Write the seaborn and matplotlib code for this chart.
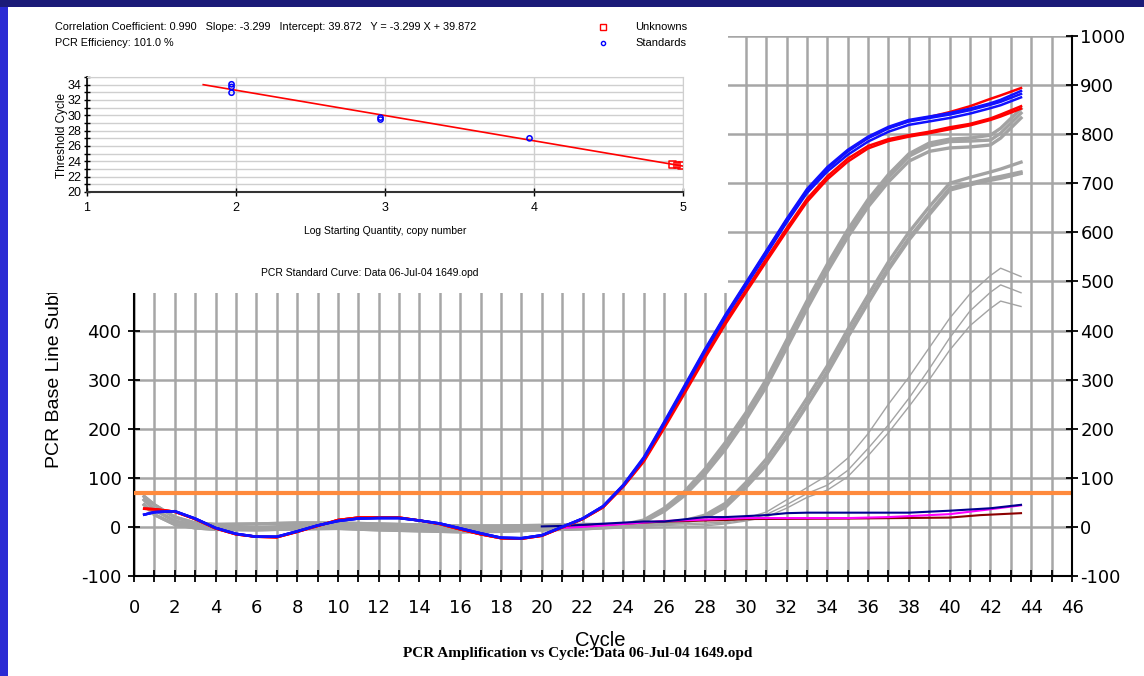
import matplotlib
matplotlib.use("Agg")
import matplotlib.pyplot as plt
from matplotlib.patches import Rectangle
from matplotlib.lines import Line2D
from matplotlib.ticker import MultipleLocator
import seaborn as sns

plt.rcParams["axes.unicode_minus"] = False

W, H = 1144, 676

# --- standard curve (inset) ---
std_logq = [1.97, 1.97, 1.97, 2.97, 2.97, 3.97]
std_ct = [34.05, 33.7, 32.95, 29.7, 29.45, 27.0]
unk_logq = [4.93, 4.96, 4.99]
unk_ct = [23.6, 23.5, 23.45]
fit_logq = [1.78, 5.0]
fit_ct = [34.0, 23.38]

# --- amplification curves ---
wave_cyc = [0.5, 1, 2, 3, 4, 5, 6, 7, 8, 9, 10, 11, 12, 13, 14, 15, 16, 17, 18, 19, 20, 21, 22, 23]
blue_wave = [25, 30, 32, 17, -2, -14, -20, -20, -9, 3, 12, 17, 18, 18, 13, 7, -3, -13, -22, -23, -17, 0, 17, 42]
red_wave = [37, 36, 31, 16, -3, -15, -20, -21, -10, 2, 14, 19, 19, 19, 13, 6, -5, -15, -23, -24, -18, -1, 16, 40]

late_cyc = [24, 25, 26, 27, 28, 29, 30, 31, 32, 33, 34, 35, 36, 37, 38, 39, 40, 41, 42, 42.5, 43.5]
blue1 = [86, 142, 214, 288, 362, 432, 497, 562, 627, 688, 733, 768, 795, 815, 829, 836, 843, 852, 863, 870, 888]
blue2 = [85, 140, 212, 285, 360, 430, 495, 560, 625, 685, 730, 765, 792, 812, 826, 833, 840, 849, 860, 866, 882]
blue3 = [84, 139, 210, 283, 357, 427, 491, 555, 620, 680, 724, 758, 785, 805, 819, 826, 833, 842, 853, 859, 875]
red1 = [84, 138, 208, 282, 356, 426, 492, 558, 622, 684, 730, 766, 793, 813, 827, 835, 845, 857, 872, 879, 894]
red2 = [83, 135, 204, 276, 348, 418, 482, 546, 608, 668, 714, 750, 776, 790, 798, 805, 814, 821, 832, 840, 857]
red3 = [82, 133, 201, 272, 344, 413, 477, 540, 602, 662, 708, 744, 771, 786, 795, 802, 810, 818, 829, 836, 852]

gray_cyc = [0.5, 1, 2, 3, 4, 6, 8, 10, 12, 14, 16, 18, 20, 22]
gray_base_hi = [62, 45, 20, 8, 5, 6, 8, 8, 6, 4, 2, 2, 3, 5]
gray_base_mid = [55, 35, 12, 3, 0, -2, 2, 3, 0, -3, -5, -4, -2, 0]
gray_base_lo = [45, 25, 5, -2, -5, -6, -4, -3, -6, -8, -10, -9, -6, -4]

gray_a1 = [5, 14, 38, 72, 118, 172, 232, 300, 380, 460, 535, 605, 667, 718, 760, 782, 790, 792, 798, 812, 852]
gray_a2 = [3, 12, 35, 68, 112, 165, 225, 292, 372, 452, 528, 598, 660, 712, 755, 776, 785, 786, 788, 802, 843]
gray_a3 = [1, 10, 32, 64, 107, 158, 218, 285, 364, 444, 520, 590, 652, 703, 745, 765, 772, 774, 778, 792, 833]
gray_b1 = [4, 6, 9, 13, 24, 48, 90, 138, 198, 262, 328, 402, 472, 540, 600, 652, 700, 712, 723, 729, 743]
gray_b2 = [2, 4, 7, 11, 20, 42, 82, 128, 186, 250, 316, 390, 460, 528, 588, 640, 690, 700, 710, 714, 723]
gray_b3 = [0, 3, 6, 10, 18, 40, 80, 125, 183, 247, 313, 386, 456, 524, 584, 636, 686, 697, 706, 710, 720]
gray_c1 = [6, 5, 6, 7, 8, 10, 18, 30, 55, 80, 105, 140, 190, 250, 305, 365, 425, 475, 512, 527, 510]
gray_c2 = [3, 2, 3, 4, 5, 8, 14, 25, 45, 68, 85, 115, 160, 208, 262, 322, 385, 440, 478, 493, 477]
gray_c3 = [0, -2, -1, 0, 2, 6, 12, 20, 38, 60, 75, 102, 145, 192, 245, 300, 360, 410, 445, 460, 449]

ntc_navy_cyc = [20, 21, 25, 26, 28, 29, 31, 32, 33, 38, 40, 42, 43.5]
ntc_navy = [1, 2, 11, 11, 20, 20, 24, 28, 29, 29, 33, 38, 45]
ntc_mag_cyc = [21, 22, 26, 30, 32, 35, 37, 40, 42, 43.5]
ntc_mag = [-2, 0, 12, 18, 18, 18, 20, 26, 36, 44]
ntc_dred_cyc = [22, 26, 29, 30, 35, 40, 41.5, 43.5]
ntc_dred = [2, 11, 14, 16, 17, 19, 24, 28]

threshold = 70
rfu_ticks = [-100, 0, 100, 200, 300, 400, 500, 600, 700, 800, 900, 1000]
# the left scale only shows what is not hidden by the standard-curve panel
left_labels = ["-100", "0", "100", "200", "300", "400", "", "", "", "", "", ""]


def fx(x):
    return x / W


def fy(y):
    return 1 - y / H


def curve(ax, x, y, color, lw, z):
    sns.lineplot(x=x, y=y, color=color, linewidth=lw, ax=ax,
                 estimator=None, sort=False, zorder=z)


fig = plt.figure(figsize=(W / 100, H / 100), dpi=100)

# main amplification plot
ax = fig.add_axes([fx(134), fy(576), (1072 - 134) / W, (576 - 36) / H])

for base, tails in [(gray_base_hi, [gray_a1, gray_b1, gray_c1]),
                    (gray_base_mid, [gray_a2, gray_b2, gray_c2]),
                    (gray_base_lo, [gray_a3, gray_b3, gray_c3])]:
    for i, t in enumerate(tails):
        curve(ax, gray_cyc + late_cyc, base + t, "#a3a3a3", 1.0 if i == 2 else 2.4, 2)

curve(ax, ntc_dred_cyc, ntc_dred, "#8b0000", 1.5, 3)
curve(ax, ntc_mag_cyc, ntc_mag, "#ff00ff", 1.5, 3)
curve(ax, ntc_navy_cyc, ntc_navy, "#000090", 1.5, 3)

ax.axhline(threshold, color="#ff8a3c", lw=3, zorder=3.5)

for t in [red2, red3, red1]:
    curve(ax, wave_cyc + late_cyc, red_wave + t, "#ff0000", 1.8, 4)
for t in [blue3, blue2, blue1]:
    curve(ax, wave_cyc + late_cyc, blue_wave + t, "#1010ff", 1.8, 5)

ax.set_xlim(0, 46)
ax.set_ylim(-100, 1000)
ax.set_xlabel("")
ax.set_ylabel("")
ax.xaxis.set_major_locator(MultipleLocator(2))
ax.xaxis.set_minor_locator(MultipleLocator(1))
ax.set_yticks(rfu_ticks)
ax.set_yticklabels(left_labels)
ax.grid(True, which="both", axis="x", color="#a6a6a6", lw=1.8)
ax.grid(True, which="major", axis="y", color="#a6a6a6", lw=1.8)
ax.set_axisbelow(True)
ax.spines["top"].set_visible(False)
ax.spines["right"].set_visible(False)
for s in ["left", "bottom"]:
    ax.spines[s].set_linewidth(1.5)
ax.tick_params(axis="x", which="both", direction="inout", length=9, width=1.3, labelsize=13, pad=12)
ax.tick_params(axis="y", direction="inout", length=9, width=1.3, labelsize=13, pad=4.5)

ax2 = ax.twinx()
ax2.set_ylim(-100, 1000)
ax2.set_yticks(rfu_ticks)
for s in ["left", "top", "bottom"]:
    ax2.spines[s].set_visible(False)
ax2.spines["right"].set_linewidth(1.5)
ax2.tick_params(axis="y", direction="inout", length=9, width=1.3, labelsize=13, pad=1.5)

fig.text(fx(55), fy(468), "PCR Base Line Subtracted RFU", rotation=90, ha="center", va="bottom",
         fontsize=14, family="Liberation Sans", zorder=0.5)
fig.text(fx(600), fy(640), "Cycle", ha="center", va="center", fontsize=14.5, family="Liberation Sans")
fig.text(fx(578), fy(654), "PCR Amplification vs Cycle: Data 06-Jul-04 1649.opd", ha="center", va="center",
         fontsize=11, fontweight="bold", family="Liberation Serif")

# white panel holding the standard curve
fig.add_artist(Rectangle((0, fy(293)), fx(728), 293 / H, transform=fig.transFigure,
                         facecolor="white", edgecolor="none", zorder=1))

ins = fig.add_axes([fx(87), fy(192), (683 - 87) / W, (192 - 77) / H])
ins.set_zorder(2)
curve(ins, fit_logq, fit_ct, "#ff0000", 1.2, 3)
sns.scatterplot(x=std_logq, y=std_ct, marker="o", s=14, facecolors="none", edgecolor="#0000ff",
                linewidth=1.1, ax=ins, zorder=4)
sns.scatterplot(x=unk_logq, y=unk_ct, marker="s", s=22, facecolors="none", edgecolor="#ff0000",
                linewidth=1.1, ax=ins, zorder=4)
ins.set_xlim(1, 5)
ins.set_ylim(20, 35)
ins.set_xlabel("")
ins.set_ylabel("")
ins.xaxis.set_major_locator(MultipleLocator(1))
ins.yaxis.set_major_locator(MultipleLocator(2))
ins.yaxis.set_minor_locator(MultipleLocator(1))
ins.grid(True, which="both", axis="y", color="#cfcfcf", lw=1)
ins.grid(True, which="major", axis="x", color="#cfcfcf", lw=1)
ins.set_axisbelow(True)
for s in ["top", "right"]:
    ins.spines[s].set_color("#cfcfcf")
ins.spines["left"].set_linewidth(1.2)
ins.spines["bottom"].set_color("#333333")
ins.spines["bottom"].set_linewidth(1.5)
ins.tick_params(axis="y", which="both", direction="inout", length=5, width=1, labelsize=9, pad=1.5)
ins.tick_params(axis="x", direction="inout", length=6, width=1, labelsize=9, pad=4)
for lab in ins.get_xticklabels() + ins.get_yticklabels():
    lab.set_family("Liberation Sans")

fig.text(fx(55), fy(27), "Correlation Coefficient: 0.990   Slope: -3.299   Intercept: 39.872   Y = -3.299 X + 39.872",
         ha="left", va="center", fontsize=7.8, family="Liberation Sans", zorder=3)
fig.text(fx(55), fy(43), "PCR Efficiency: 101.0 %", ha="left", va="center", fontsize=7.8,
         family="Liberation Sans", zorder=3)
fig.text(fx(635), fy(27), "Unknowns", ha="left", va="center", fontsize=8, family="Liberation Sans", zorder=3)
fig.text(fx(635), fy(43), "Standards", ha="left", va="center", fontsize=8, family="Liberation Sans", zorder=3)
fig.add_artist(Line2D([fx(603)], [fy(27)], marker="s", ms=4, mfc="none", mec="#ff0000", mew=1,
                      transform=fig.transFigure, zorder=3))
fig.add_artist(Line2D([fx(603)], [fy(43)], marker="o", ms=3, mfc="none", mec="#0000ff", mew=1,
                      transform=fig.transFigure, zorder=3))
fig.text(fx(62), fy(135), "Threshold Cycle", rotation=90, ha="center", va="center", fontsize=8.5,
         family="Liberation Sans", zorder=3)
fig.text(fx(385), fy(231), "Log Starting Quantity, copy number", ha="center", va="center", fontsize=7.5,
         family="Liberation Sans", zorder=3)
fig.text(fx(370), fy(273), "PCR Standard Curve: Data 06-Jul-04 1649.opd", ha="center", va="center",
         fontsize=7.5, family="Liberation Sans", zorder=3)

# slide border
fig.add_artist(Rectangle((0, 0), fx(8), 1, transform=fig.transFigure, facecolor="#2b2bd4",
                         edgecolor="none", zorder=6))
fig.add_artist(Rectangle((0, fy(7)), 1, 7 / H, transform=fig.transFigure, facecolor="#1b1b78",
                         edgecolor="none", zorder=7))

fig.savefig("out.png", dpi=100)
